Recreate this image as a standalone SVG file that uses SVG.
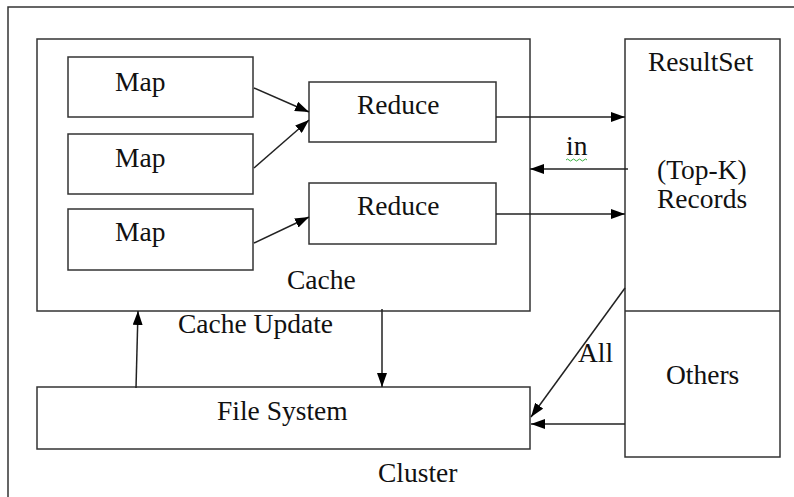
<svg xmlns="http://www.w3.org/2000/svg" width="794" height="497" viewBox="0 0 794 497">
  <style>
    .box { fill: #fff; stroke: #333; stroke-width: 1.5; }
    .frame { fill: none; stroke: #333; stroke-width: 1.5; }
    text { font-family: 'Liberation Serif', 'Times New Roman', Times, 'DejaVu Serif', serif; font-size: 27.5px; fill: #111; }
    .edge { stroke: #222; stroke-width: 1.5; fill: none; marker-end: url(#arrow); }
  </style>
  <defs>
    <marker id="arrow" viewBox="0 0 14 10" refX="14" refY="5" markerWidth="14" markerHeight="10" markerUnits="userSpaceOnUse" orient="auto">
      <path d="M0,0 L14,5 L0,10 Z" fill="#000"/>
    </marker>
  </defs>

  <rect width="794" height="497" fill="#fff"/>

  <!-- cluster frame, running off the right and bottom edges -->
  <g id="cluster">
    <rect class="frame" x="8" y="7" width="800" height="500"/>
    <text x="378" y="482">Cluster</text>
  </g>

  <g id="cache">
    <rect class="box" x="37" y="39" width="493" height="272"/>
    <text x="287" y="289">Cache</text>
  </g>

  <g id="map1">
    <rect class="box" x="68" y="57" width="185" height="60"/>
    <text x="115" y="91">Map</text>
  </g>
  <g id="map2">
    <rect class="box" x="68" y="134" width="185" height="60"/>
    <text x="115" y="167">Map</text>
  </g>
  <g id="map3">
    <rect class="box" x="68" y="209" width="185" height="61"/>
    <text x="115" y="241">Map</text>
  </g>

  <g id="reduce1">
    <rect class="box" x="309" y="82" width="187" height="60"/>
    <text x="357" y="114">Reduce</text>
  </g>
  <g id="reduce2">
    <rect class="box" x="309" y="183" width="187" height="61"/>
    <text x="357" y="215">Reduce</text>
  </g>

  <g id="resultset">
    <rect class="box" x="625" y="39" width="155" height="418"/>
    <line x1="625" y1="311" x2="780" y2="311" stroke="#333" stroke-width="1.5"/>
    <text x="648" y="71">ResultSet</text>
    <text x="657" y="179">(Top-K)</text>
    <text x="657" y="208">Records</text>
    <text x="666" y="384">Others</text>
  </g>

  <g id="filesystem">
    <rect class="box" x="37" y="387" width="493" height="62"/>
    <text x="217" y="420">File System</text>
  </g>

  <g id="connectors">
    <line class="edge" x1="254" y1="88" x2="309" y2="112"/>
    <line class="edge" x1="254" y1="168" x2="309" y2="120"/>
    <line class="edge" x1="254" y1="243" x2="309" y2="217"/>
    <line class="edge" x1="496" y1="117" x2="625" y2="117"/>
    <line class="edge" x1="628" y1="169" x2="530" y2="169"/>
    <line class="edge" x1="496" y1="214" x2="625" y2="214"/>
    <line class="edge" x1="136" y1="388" x2="138" y2="311"/>
    <line class="edge" x1="382" y1="309" x2="382" y2="387"/>
    <line class="edge" x1="625" y1="288" x2="531" y2="417"/>
    <line class="edge" x1="625" y1="424" x2="531" y2="424"/>
    <text x="566" y="155">in</text>
    <path d="M566,160 q1.5,-2 3,0 t3,0 t3,0 t3,0 t3,0 t3,0 t3,0" fill="none" stroke="#3cb043" stroke-width="1"/>
    <text x="178" y="333">Cache Update</text>
    <text x="578" y="362">All</text>
  </g>
</svg>
